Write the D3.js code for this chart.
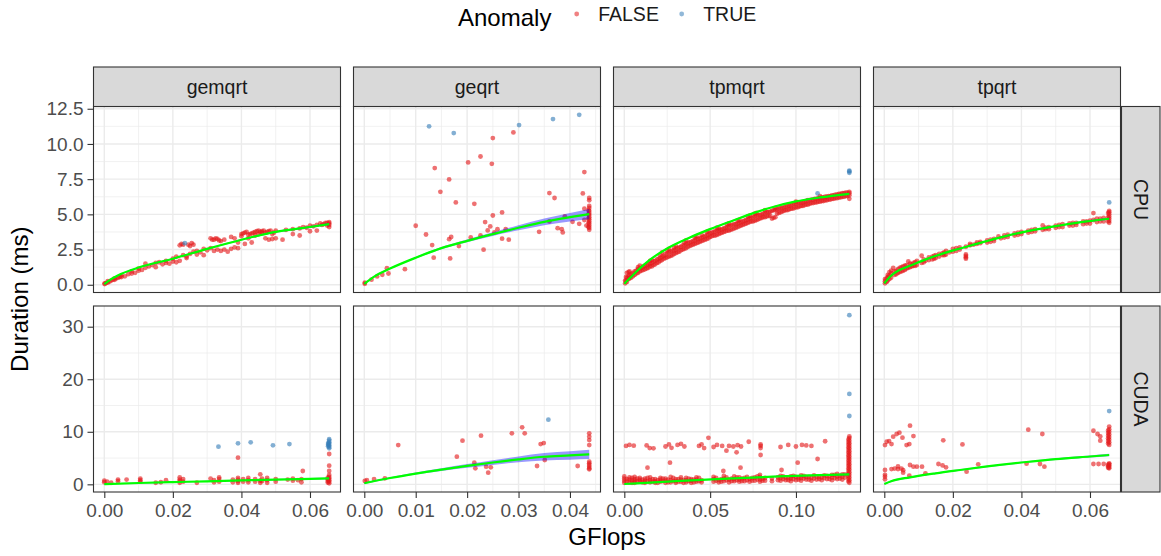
<!DOCTYPE html>
<html>
  <head>
    <meta charset="utf-8">
    <script src="https://d3js.org/d3.v7.min.js"></script>
    <style>
      body {
        margin: 0;
        background-color: #ffffff;
      }
      svg {
        font-family: "Liberation Sans", Arial, sans-serif;
      }
    </style>
  </head>

  <body>
    <!-- Facets, scales and tick labels. -->
    <script>
      const kernels = ["gemqrt", "geqrt", "tpmqrt", "tpqrt"]
      const devices = ["CPU", "CUDA"]
      const anomalyLabels = ["FALSE", "TRUE"]

      const xDomains = [[-0.00315, 0.0689], [-0.0021, 0.04594], [-0.0063, 0.1376], [-0.00315, 0.0689]]
      const xMajor = [[0, 0.02, 0.04, 0.06], [0, 0.01, 0.02, 0.03, 0.04], [0, 0.05, 0.1], [0, 0.02, 0.04, 0.06]]
      const xMinor = [[0.01, 0.03, 0.05], [0.005, 0.015, 0.025, 0.035, 0.045], [0.025, 0.075, 0.125], [0.01, 0.03, 0.05]]
      const xLabels = [["0.00", "0.02", "0.04", "0.06"], ["0.00", "0.01", "0.02", "0.03", "0.04"], ["0.00", "0.05", "0.10"], ["0.00", "0.02", "0.04", "0.06"]]

      const yDomains = [[-0.55, 12.66], [-1.46, 33.94]]
      const yMajor = [[0, 2.5, 5, 7.5, 10, 12.5], [0, 10, 20, 30]]
      const yMinor = [[1.25, 3.75, 6.25, 8.75, 11.25], [5, 15, 25]]
      const yLabels = [["0.0", "2.5", "5.0", "7.5", "10.0", "12.5"], ["0", "10", "20", "30"]]
    </script>

    <!-- Points, written as [GFlops, duration, duration, ...] columns. -->
    <script>
      const gemqrtCpuFalse = [
        [0.0001, 0.05, 0.1], [0.001, 0.15, 0.25], [0.002, 0.3], [0.003, 0.35, 0.45], [0.004, 0.5],
        [0.005, 0.55, 0.65], [0.006, 0.6], [0.007, 0.75], [0.008, 0.8, 0.95], [0.009, 0.85],
        [0.010, 1.0, 1.15], [0.011, 1.05], [0.012, 1.2, 1.5], [0.013, 1.3], [0.014, 1.4],
        [0.015, 1.25, 1.55], [0.016, 1.6], [0.017, 1.45], [0.018, 1.7, 1.55], [0.019, 1.5],
        [0.020, 1.65, 1.85], [0.021, 1.6, 2.0], [0.022, 2.8, 1.7], [0.023, 2.85, 2.1], [0.024, 2.0, 1.9],
        [0.025, 2.75, 2.2], [0.026, 2.35, 2.85], [0.027, 2.15, 2.4], [0.028, 2.3], [0.029, 2.55, 2.1],
        [0.030, 2.45], [0.031, 2.6, 3.3], [0.032, 3.2, 2.4], [0.033, 3.25, 2.5], [0.034, 3.1, 2.4],
        [0.035, 2.5, 3.2], [0.036, 2.35], [0.037, 2.55, 3.4], [0.038, 2.65, 3.3], [0.039, 3.0, 2.6],
        [0.040, 3.6, 3.45], [0.041, 3.7, 2.9], [0.042, 3.55, 3.3], [0.043, 3.65, 3.0], [0.044, 3.75, 3.5],
        [0.045, 3.6, 3.85], [0.046, 3.8, 3.7], [0.047, 3.7, 3.3], [0.048, 3.8, 3.2], [0.049, 3.6, 3.25],
        [0.050, 3.85, 3.3], [0.052, 3.2], [0.053, 3.9], [0.055, 3.95, 3.6], [0.057, 4.0, 3.5],
        [0.058, 4.1], [0.059, 4.05], [0.060, 4.2, 3.8], [0.061, 4.15], [0.062, 3.85, 4.25],
        [0.063, 4.35], [0.064, 4.3], [0.065, 4.4, 4.2], [0.0656, 4.1, 4.25, 4.35, 4.45],
        [0.0005, 0.12], [0.0015, 0.22], [0.0025, 0.35], [0.0035, 0.45], [0.0045, 0.55],
        [0.0225, 2.9], [0.0245, 2.85], [0.0255, 2.95], [0.0315, 3.2], [0.0325, 3.3], [0.0335, 3.15],
        [0.0405, 3.65], [0.0415, 3.75], [0.0425, 3.6], [0.0435, 3.7], [0.0445, 3.8], [0.0455, 3.75],
        [0.0465, 3.85], [0.0475, 3.75], [0.0485, 3.85], [0.0495, 3.7], [0.0635, 4.25], [0.0645, 4.4]
      ]
      const gemqrtCpuTrue = [[0.0235, 2.95]]

      const geqrtCpuFalse = [
        [0.0001, 0.07, 0.15], [0.0014, 0.36], [0.0025, 0.59], [0.0035, 0.71], [0.0044, 1.18],
        [0.0047, 0.8], [0.0079, 1.11], [0.01, 4.19], [0.012, 3.57], [0.0132, 2.82], [0.0135, 1.92],
        [0.0137, 8.29], [0.0148, 6.6], [0.0165, 3.24, 7.48], [0.0167, 1.87], [0.0169, 3.39],
        [0.0178, 5.85], [0.0184, 2.75], [0.0202, 8.69], [0.0207, 3.36], [0.0214, 5.75],
        [0.0226, 3.5, 9.11], [0.0232, 2.49], [0.0235, 4.45], [0.024, 3.86], [0.0245, 4.14],
        [0.0248, 8.59], [0.025, 4.92, 10.42], [0.0253, 3.72], [0.0259, 3.95], [0.0268, 3.27, 5.14],
        [0.0275, 3.95], [0.0281, 3.2], [0.029, 10.82], [0.034, 3.76], [0.036, 4.5, 6.51],
        [0.037, 6.16], [0.0376, 4.02], [0.0384, 3.95], [0.0386, 3.72], [0.039, 4.85], [0.0405, 4.47],
        [0.0418, 4.33], [0.0425, 6.49], [0.0428, 5.4, 8.0, 4.6], [0.0432, 4.2],
        [0.04375, 3.9, 4.05, 4.2, 4.35, 4.5, 4.65, 4.8, 4.95, 5.1, 5.25, 5.45, 5.6, 6.0, 6.16],
        [0.0436, 4.1, 4.4, 4.7, 5.0, 5.3]
      ]
      const geqrtCpuTrue = [[0.0126, 11.25], [0.0174, 10.77], [0.0301, 11.34], [0.0367, 11.77], [0.0418, 12.07]]

      const tpmqrtCpuFalse = [
        [0.0005, 0.1, 0.3], [0.0015, 0.2, 0.5, 0.85], [0.0025, 0.4, 0.6, 0.9], [0.004, 0.5, 0.75],
        [0.006, 0.7, 0.95], [0.008, 0.85, 1.1, 1.25], [0.010, 1.0, 1.2], [0.012, 1.1, 1.35],
        [0.014, 1.2, 1.45], [0.016, 1.3, 1.55, 1.75], [0.018, 1.45, 1.7], [0.020, 1.6, 1.85],
        [0.022, 1.75, 2.0, 2.3], [0.024, 1.9, 2.15], [0.026, 2.0, 2.3, 2.55], [0.028, 2.1, 2.4],
        [0.030, 2.25, 2.5, 2.75], [0.032, 2.35, 2.65], [0.034, 2.5, 2.8], [0.036, 2.6, 2.9, 3.15],
        [0.038, 2.75, 3.0], [0.040, 2.85, 3.1], [0.042, 2.95, 3.25, 3.45], [0.044, 3.05, 3.3],
        [0.046, 3.15, 3.4], [0.048, 3.25, 3.5, 3.75], [0.050, 3.4, 3.65], [0.052, 3.5, 3.75],
        [0.054, 3.55, 3.85, 4.05], [0.056, 3.65, 3.9], [0.058, 3.75, 4.0], [0.060, 3.85, 4.1, 4.3],
        [0.062, 3.9, 4.2], [0.064, 4.0, 4.3], [0.066, 4.1, 4.35, 4.55], [0.068, 4.2, 4.45],
        [0.070, 4.3, 4.55], [0.072, 4.4, 4.65, 4.85], [0.074, 4.5, 4.75], [0.076, 4.55, 4.85, 5.05],
        [0.078, 4.65, 4.95], [0.080, 4.75, 5.0], [0.082, 4.8, 5.1, 5.3], [0.084, 4.9, 5.15],
        [0.086, 4.7, 5.25], [0.088, 4.8, 5.3, 5.45], [0.090, 5.1, 5.4], [0.092, 5.2, 5.45],
        [0.094, 5.3, 5.55], [0.096, 5.35, 5.6], [0.098, 5.4, 5.7], [0.100, 5.5, 5.75, 5.9],
        [0.102, 5.55, 5.8], [0.104, 5.6, 5.85], [0.106, 5.7, 5.95], [0.108, 5.75, 6.0],
        [0.110, 5.8, 6.05], [0.112, 5.85, 6.1], [0.114, 5.9, 6.15, 6.3], [0.116, 5.95, 6.2],
        [0.118, 6.0, 6.25], [0.120, 6.05, 6.3], [0.122, 6.1, 6.35], [0.124, 6.15, 6.4],
        [0.126, 6.2, 6.45], [0.128, 6.25, 6.5], [0.130, 6.3, 6.55], [0.1311, 6.1, 6.35, 6.5, 6.6],
        [0.001, 0.3, 0.55], [0.003, 0.45, 0.7, 0.95], [0.005, 0.6, 0.85], [0.007, 0.8, 1.0],
        [0.009, 0.95, 1.15, 1.35], [0.011, 1.05, 1.3], [0.013, 1.15, 1.4], [0.015, 1.3, 1.5, 1.7],
        [0.017, 1.4, 1.65], [0.019, 1.55, 1.8], [0.021, 1.7, 1.9, 2.1], [0.023, 1.85, 2.05],
        [0.025, 1.95, 2.25, 2.45], [0.027, 2.05, 2.35], [0.029, 2.2, 2.45, 2.65], [0.031, 2.3, 2.6],
        [0.033, 2.45, 2.7], [0.035, 2.55, 2.8, 3.0], [0.037, 2.7, 2.95], [0.039, 2.8, 3.05],
        [0.041, 2.9, 3.15, 3.35], [0.043, 3.0, 3.25], [0.045, 3.1, 3.35, 3.55], [0.047, 3.2, 3.45],
        [0.049, 3.3, 3.55, 3.8], [0.051, 3.45, 3.7], [0.053, 3.5, 3.8], [0.055, 3.6, 3.85, 4.0],
        [0.057, 3.7, 3.95], [0.059, 3.8, 4.05], [0.061, 3.85, 4.15, 4.35], [0.063, 3.95, 4.25],
        [0.065, 4.05, 4.3], [0.067, 4.15, 4.4, 4.6], [0.069, 4.25, 4.5], [0.071, 4.35, 4.6],
        [0.073, 4.45, 4.7, 4.9], [0.075, 4.5, 4.8], [0.077, 4.6, 4.9, 5.1], [0.079, 4.7, 4.95],
        [0.081, 4.8, 5.05], [0.083, 4.85, 5.15], [0.085, 4.9, 5.2], [0.087, 4.75, 5.3],
        [0.089, 5.05, 5.35], [0.091, 5.15, 5.45], [0.093, 5.25, 5.5], [0.095, 5.3, 5.6],
        [0.097, 5.4, 5.65], [0.099, 5.45, 5.75], [0.101, 5.5, 5.8], [0.103, 5.6, 5.85],
        [0.105, 5.65, 5.9], [0.107, 5.7, 6.0], [0.109, 5.8, 6.05], [0.111, 5.85, 6.1],
        [0.113, 5.9, 6.15], [0.115, 5.95, 6.2], [0.117, 6.0, 6.25], [0.119, 6.05, 6.3],
        [0.121, 6.1, 6.35], [0.123, 6.15, 6.4], [0.125, 6.2, 6.45], [0.127, 6.25, 6.5], [0.129, 6.3, 6.55]
      ]
      const tpmqrtCpuTrue = [[0.1126, 6.49], [0.1311, 7.95, 8.05, 8.1]]

      const tpqrtCpuFalse = [
        [0.0002, 0.1, 0.25, 0.4], [0.001, 0.3, 0.55, 0.7], [0.002, 0.5, 0.8, 1.0], [0.0026, 1.2],
        [0.003, 0.7, 0.95], [0.004, 0.85, 1.1], [0.005, 0.95, 1.25], [0.006, 1.05, 1.35],
        [0.007, 1.2, 1.65], [0.008, 1.3, 1.45], [0.009, 1.35, 1.6], [0.0109, 1.55, 2.06],
        [0.012, 1.7], [0.013, 1.75, 1.95], [0.014, 1.8, 2.0], [0.015, 1.9, 2.1], [0.016, 2.0, 2.2],
        [0.017, 2.1, 2.25], [0.018, 2.15, 2.4], [0.019, 2.3], [0.020, 2.35, 2.55], [0.022, 2.5, 2.65],
        [0.0238, 1.85, 1.95, 2.05, 2.15, 2.7], [0.025, 2.8, 2.91], [0.026, 2.85], [0.028, 2.95, 3.05],
        [0.030, 3.0, 3.15], [0.032, 3.1, 3.25], [0.0333, 3.43], [0.034, 3.3], [0.036, 3.4, 3.55],
        [0.038, 3.5, 3.65], [0.040, 3.6, 3.75], [0.042, 3.7, 3.85], [0.044, 3.8, 3.95],
        [0.0462, 4.21, 3.9], [0.048, 3.95, 4.1], [0.050, 4.05, 4.2], [0.052, 4.1, 4.3],
        [0.054, 4.2, 4.35], [0.056, 4.25, 4.4], [0.058, 4.3, 4.5], [0.060, 4.35, 4.55],
        [0.061, 5.09, 4.6], [0.062, 4.45, 4.7], [0.064, 4.5, 4.75],
        [0.0656, 4.4, 4.55, 4.7, 4.85, 5.0, 5.15, 5.25],
        [0.0007, 0.2, 0.45], [0.0015, 0.4, 0.65, 0.9], [0.0035, 0.75, 1.0], [0.0045, 0.9, 1.2],
        [0.0055, 1.0, 1.3], [0.0065, 1.15, 1.4], [0.0075, 1.25, 1.5], [0.0085, 1.35, 1.55],
        [0.0095, 1.4, 1.7], [0.0115, 1.6, 1.8], [0.0145, 1.85, 2.05], [0.0175, 2.1, 2.3],
        [0.021, 2.4, 2.6], [0.027, 2.9, 3.0], [0.031, 3.05, 3.2], [0.035, 3.35, 3.5],
        [0.039, 3.55, 3.7], [0.043, 3.75, 3.9], [0.047, 3.95, 4.05], [0.051, 4.1, 4.25],
        [0.055, 4.2, 4.4], [0.059, 4.35, 4.5], [0.063, 4.5, 4.7], [0.0653, 4.5, 4.8, 5.1]
      ]
      const tpqrtCpuTrue = [[0.0656, 5.85]]

      const gemqrtCudaFalse = [
        [0.0, 0.4, 0.7], [0.0008, 0.5], [0.002, 0.3], [0.004, 0.6, 0.9], [0.0065, 0.9],
        [0.0105, 0.5, 0.8, 1.1], [0.015, 0.3], [0.0165, 0.4], [0.018, 0.8], [0.022, 0.3, 0.6, 0.9, 1.3],
        [0.023, 0.5, 1.0], [0.027, 0.3], [0.031, 1.1], [0.032, 0.4, 0.8], [0.0335, 0.5, 1.0, 1.3],
        [0.0375, 0.4, 0.9], [0.039, 0.3, 0.6, 0.9, 1.2, 5.07], [0.0405, 0.5, 1.0], [0.042, 0.4, 0.8, 1.2],
        [0.044, 0.5, 1.0], [0.0455, 0.3, 0.7, 1.9], [0.046, 0.6, 1.1], [0.0475, 0.3, 0.8, 1.2],
        [0.05, 0.5, 1.0], [0.0535, 0.9], [0.055, 0.7, 1.1], [0.0565, 0.8], [0.0575, 0.4, 1.0],
        [0.0579, 2.54], [0.0656, 0.2, 0.5, 0.8, 1.1, 1.4, 1.78, 2.54, 3.55, 5.77],
        [0.0652, 0.35, 0.65, 0.95, 1.25]
      ]
      const gemqrtCudaTrue = [
        [0.0333, 7.17], [0.039, 7.8], [0.0427, 8.0], [0.0492, 7.42], [0.054, 7.67],
        [0.0656, 6.85, 7.1, 7.4, 7.7, 8.0, 8.3, 8.6], [0.0653, 7.25, 7.55, 7.85]
      ]

      const geqrtCudaFalse = [
        [0.0001, 0.63], [0.0005, 0.8], [0.0019, 1.0], [0.004, 1.14], [0.0066, 7.48], [0.018, 5.26],
        [0.0191, 8.3], [0.0214, 4.12], [0.0216, 3.04], [0.0227, 9.26], [0.0237, 3.36], [0.0241, 2.22],
        [0.0246, 3.23], [0.0287, 9.7], [0.0307, 10.84], [0.0312, 9.7], [0.0336, 3.49], [0.0343, 7.67],
        [0.0349, 7.86], [0.0351, 4.63], [0.0415, 3.49],
        [0.04375, 2.85, 3.04, 3.36, 3.68, 4.0, 4.31, 7.48, 8.43, 9.07, 9.7]
      ]
      const geqrtCudaTrue = [[0.0358, 12.3]]

      const tpmqrtCudaFalse = [
        [0.000, 0.3, 0.7, 1.1, 1.5], [0.003, 0.4, 0.9, 1.3], [0.006, 0.3, 0.6, 1.0, 1.4],
        [0.009, 0.5, 0.9, 1.2], [0.012, 0.3, 0.7, 1.1], [0.015, 0.4, 0.8, 1.3], [0.018, 0.3, 0.6, 1.0],
        [0.021, 0.5, 0.9, 1.2], [0.024, 0.3, 0.7, 1.1], [0.027, 0.4, 0.8, 1.4], [0.030, 0.3, 0.6, 1.0],
        [0.033, 0.5, 0.9, 1.3], [0.036, 0.4, 0.8, 1.2], [0.039, 0.3, 0.7, 1.0], [0.042, 0.5, 0.9, 1.3],
        [0.045, 0.4, 0.8], [0.052, 0.5, 1.0, 1.4], [0.055, 0.4, 0.8], [0.058, 0.6, 1.1, 1.6],
        [0.061, 0.4, 0.9], [0.064, 0.6, 1.0, 1.5], [0.067, 0.5, 0.9, 1.3], [0.070, 0.6, 1.2],
        [0.073, 0.5, 1.0], [0.076, 0.7, 1.3], [0.079, 0.5, 0.9, 1.4, 1.8], [0.082, 0.7, 1.2],
        [0.086, 0.6, 1.1], [0.091, 0.7, 1.2, 1.6], [0.094, 0.8, 1.3], [0.097, 0.6, 1.1, 1.5],
        [0.100, 0.8, 1.4], [0.103, 0.7, 1.2, 1.7], [0.106, 0.9, 1.4], [0.109, 0.7, 1.2],
        [0.112, 0.9, 1.5], [0.115, 0.8, 1.3], [0.118, 1.0, 1.6], [0.121, 0.8, 1.3, 1.8],
        [0.124, 1.0, 1.5, 2.0], [0.127, 0.9, 1.4, 1.9],
        [0.1311, 0.3, 0.8, 1.3, 1.8, 2.3, 2.8, 3.3, 3.8, 4.3, 4.8, 5.3, 5.8, 6.3, 6.8, 7.3, 7.8, 8.3, 8.8, 9.1],
        [0.1306, 0.55, 1.05, 1.55, 2.05, 2.55, 3.05, 3.55, 4.05, 4.55, 5.05, 5.55, 6.05, 6.55, 7.05, 7.55, 8.05, 8.55],
        [0.0015, 0.5, 1.0], [0.0045, 0.3, 0.8, 1.2], [0.0075, 0.6, 1.1], [0.0105, 0.4, 0.9],
        [0.0135, 0.6, 1.2], [0.0165, 0.5, 1.0], [0.0195, 0.3, 0.8], [0.0225, 0.6, 1.1],
        [0.0255, 0.4, 0.9], [0.0285, 0.6, 1.2], [0.0315, 0.5, 1.0], [0.0345, 0.3, 0.8],
        [0.0375, 0.6, 1.1], [0.0405, 0.4, 0.9], [0.0435, 0.6, 1.2], [0.0535, 0.7, 1.2],
        [0.0565, 0.5, 1.0], [0.0595, 0.8, 1.3], [0.0625, 0.6, 1.1], [0.0655, 0.8, 1.3],
        [0.0685, 0.6, 1.1], [0.0715, 0.8, 1.4], [0.0745, 0.7, 1.2], [0.0775, 0.9, 1.5],
        [0.0805, 0.7, 1.1], [0.0895, 0.8, 1.3], [0.0925, 1.0, 1.5], [0.0955, 0.8, 1.2],
        [0.0985, 1.0, 1.6], [0.1015, 0.9, 1.3], [0.1045, 1.1, 1.6], [0.1075, 0.9, 1.4],
        [0.1105, 1.1, 1.7], [0.1135, 1.0, 1.4], [0.1165, 1.2, 1.7], [0.1195, 1.0, 1.5],
        [0.1225, 1.2, 1.8], [0.1255, 1.1, 1.6], [0.1285, 1.3, 1.9],
        [0.001, 7.3], [0.003, 7.5], [0.0055, 7.35], [0.013, 7.4], [0.0148, 6.9], [0.017, 6.85],
        [0.024, 7.2], [0.026, 7.6], [0.0275, 6.95], [0.031, 7.5], [0.033, 7.7], [0.035, 7.2],
        [0.0435, 7.3], [0.045, 7.6], [0.0465, 6.9], [0.049, 8.85], [0.052, 7.1], [0.054, 7.5],
        [0.057, 7.3], [0.0595, 6.4], [0.061, 7.3], [0.0635, 7.2], [0.066, 7.45], [0.068, 7.2],
        [0.0725, 8.1], [0.0794, 6.9, 7.3, 7.6], [0.091, 7.1], [0.0955, 7.5], [0.1, 7.2],
        [0.1035, 7.5], [0.106, 7.4], [0.109, 7.3], [0.117, 8.2],
        [0.0135, 3.17], [0.0266, 4.12], [0.0577, 2.54], [0.0654, 6.09], [0.0677, 3.17],
        [0.0794, 5.58], [0.0916, 2.73], [0.101, 4.12], [0.1126, 4.82]
      ]
      const tpmqrtCudaTrue = [[0.1311, 13.0, 17.2, 32.2]]

      const tpqrtCudaFalse = [
        [0.0002, 7.48], [0.0007, 8.1], [0.0014, 8.24], [0.0021, 7.67], [0.0026, 9.07], [0.0036, 9.58],
        [0.0044, 9.83], [0.0053, 8.88], [0.0065, 7.48], [0.0073, 7.67], [0.0075, 11.16], [0.0085, 9.19],
        [0.0172, 8.37], [0.0228, 7.6], [0.042, 10.4], [0.0461, 9.58], [0.061, 10.2], [0.0622, 9.58],
        [0.063, 9.1, 8.3], [0.0656, 7.5, 8.0, 8.5, 9.0, 9.5, 10.0, 10.5, 11.0],
        [0.0653, 7.75, 8.25, 8.75, 9.25, 9.75, 10.25],
        [0.0002, 2.73, 1.8, 1.46, 0.95], [0.0021, 2.9], [0.003, 3.0], [0.004, 3.4, 2.9], [0.005, 3.0],
        [0.0055, 2.7, 2.22], [0.0073, 1.65], [0.0075, 3.68], [0.0085, 3.36], [0.0095, 3.36],
        [0.011, 3.36], [0.012, 2.09], [0.0158, 3.87], [0.017, 3.6], [0.018, 3.23], [0.024, 2.41],
        [0.0274, 3.8], [0.0415, 3.93], [0.0454, 3.87], [0.0467, 3.36], [0.061, 3.87], [0.0625, 3.87],
        [0.064, 3.87], [0.0656, 3.04, 3.3, 3.6, 3.85, 4.0], [0.0653, 3.15, 3.45, 3.75]
      ]
      const tpqrtCudaTrue = [[0.0656, 13.95]]
    </script>

    <!-- Smoothed fits, as [GFlops, fitted duration, half band width]. -->
    <script>
      const gemqrtCpuFit = [[0, 0.05, 0.04], [0.002, 0.4, 0.04], [0.005, 0.78, 0.04], [0.01, 1.22, 0.04], [0.02, 1.85, 0.05], [0.03, 2.55, 0.05], [0.04, 3.2, 0.05], [0.05, 3.75, 0.06], [0.06, 4.1, 0.07], [0.0656, 4.3, 0.08]]
      const geqrtCpuFit = [[0, 0.07, 0.05], [0.002, 0.6, 0.05], [0.005, 1.15, 0.05], [0.01, 1.92, 0.06], [0.015, 2.6, 0.08], [0.02, 3.12, 0.1], [0.025, 3.6, 0.13], [0.03, 4.05, 0.18], [0.035, 4.47, 0.24], [0.04, 4.8, 0.3], [0.04375, 5.02, 0.36]]
      const tpmqrtCpuFit = [[0, 0.07, 0.04], [0.0052, 0.71, 0.04], [0.015, 1.78, 0.04], [0.0247, 2.56, 0.04], [0.0373, 3.31, 0.04], [0.0499, 3.95, 0.04], [0.0635, 4.57, 0.04], [0.0751, 5.09, 0.04], [0.0877, 5.56, 0.04], [0.1, 5.92, 0.04], [0.114, 6.2, 0.05], [0.1311, 6.46, 0.05]]
      const tpqrtCpuFit = [[0, 0.1, 0.05], [0.0017, 0.59, 0.05], [0.0046, 1.07, 0.05], [0.0075, 1.35, 0.05], [0.0123, 1.82, 0.05], [0.0201, 2.44, 0.05], [0.0269, 2.9, 0.05], [0.0337, 3.35, 0.05], [0.0415, 3.79, 0.05], [0.0512, 4.21, 0.05], [0.059, 4.5, 0.06], [0.0656, 4.69, 0.07]]
      const gemqrtCudaFit = [[0, 0.05, 0.1], [0.01, 0.25, 0.1], [0.02, 0.42, 0.1], [0.03, 0.58, 0.1], [0.04, 0.74, 0.1], [0.05, 0.9, 0.12], [0.06, 1.05, 0.14], [0.0656, 1.14, 0.15]]
      const geqrtCudaFit = [[0, 0.2, 0.15], [0.005, 1.2, 0.15], [0.01, 2.05, 0.2], [0.015, 2.8, 0.25], [0.02, 3.5, 0.35], [0.025, 4.15, 0.45], [0.03, 4.75, 0.55], [0.035, 5.25, 0.7], [0.04, 5.5, 0.8], [0.04375, 5.7, 0.9]]
      const tpmqrtCudaFit = [[0, 0.06, 0.1], [0.03, 0.6, 0.1], [0.06, 1.1, 0.1], [0.09, 1.5, 0.12], [0.12, 1.8, 0.14], [0.1311, 1.9, 0.15]]
      const tpqrtCudaFit = [[0, 0.06, 0.15], [0.002, 0.6, 0.15], [0.0075, 1.33, 0.15], [0.015, 2.1, 0.15], [0.0221, 2.73, 0.15], [0.03, 3.4, 0.15], [0.0415, 4.25, 0.15], [0.05, 4.8, 0.17], [0.06, 5.3, 0.2], [0.0656, 5.58, 0.22]]
    </script>

    <script>
      const w = 1161
      const h = 556
      const colLeft = [93.5, 353.5, 613.5, 873.5]
      const panelW = 247
      const rowTop = [106.5, 306]
      const panelH = 186
      const stripTop = 67
      const stripRight = [1121.5, 38.5]

      const red = "#E41A1C"
      const blue = "#377EB8"
      const dotR = 2.4

      const expand = (cols) => cols.flatMap(([x, ...ys]) => ys.map((y) => ({x: x, y: y})))

      const panels = [
        {row: 0, col: 0, normal: gemqrtCpuFalse, anomaly: gemqrtCpuTrue, fit: gemqrtCpuFit},
        {row: 0, col: 1, normal: geqrtCpuFalse, anomaly: geqrtCpuTrue, fit: geqrtCpuFit},
        {row: 0, col: 2, normal: tpmqrtCpuFalse, anomaly: tpmqrtCpuTrue, fit: tpmqrtCpuFit},
        {row: 0, col: 3, normal: tpqrtCpuFalse, anomaly: tpqrtCpuTrue, fit: tpqrtCpuFit},
        {row: 1, col: 0, normal: gemqrtCudaFalse, anomaly: gemqrtCudaTrue, fit: gemqrtCudaFit},
        {row: 1, col: 1, normal: geqrtCudaFalse, anomaly: geqrtCudaTrue, fit: geqrtCudaFit},
        {row: 1, col: 2, normal: tpmqrtCudaFalse, anomaly: tpmqrtCudaTrue, fit: tpmqrtCudaFit},
        {row: 1, col: 3, normal: tpqrtCudaFalse, anomaly: tpqrtCudaTrue, fit: tpqrtCudaFit}
      ]

      const svg = d3.select("body")
        .append("svg")
          .attr("width", w)
          .attr("height", h)

      const defs = svg.append("defs")

      panels.forEach((p) => {
        const left = colLeft[p.col]
        const top = rowTop[p.row]
        const x = d3.scaleLinear().domain(xDomains[p.col]).range([left, left + panelW])
        const y = d3.scaleLinear().domain(yDomains[p.row]).range([top + panelH, top])
        const id = "clip-" + p.row + "-" + p.col

        defs.append("clipPath").attr("id", id)
          .append("rect")
            .attr("x", left).attr("y", top)
            .attr("width", panelW).attr("height", panelH)

        const g = svg.append("g").attr("clip-path", "url(#" + id + ")")

        g.append("rect")
          .attr("x", left).attr("y", top)
          .attr("width", panelW).attr("height", panelH)
          .attr("fill", "#ffffff")

        // grid, minor first
        g.selectAll(".ymin").data(yMinor[p.row]).enter().append("line")
          .attr("x1", left).attr("x2", left + panelW)
          .attr("y1", (d) => y(d)).attr("y2", (d) => y(d))
          .attr("stroke", "#EBEBEB").attr("stroke-width", 0.7)
        g.selectAll(".xmin").data(xMinor[p.col]).enter().append("line")
          .attr("y1", top).attr("y2", top + panelH)
          .attr("x1", (d) => x(d)).attr("x2", (d) => x(d))
          .attr("stroke", "#EBEBEB").attr("stroke-width", 0.7)
        g.selectAll(".ymaj").data(yMajor[p.row]).enter().append("line")
          .attr("x1", left).attr("x2", left + panelW)
          .attr("y1", (d) => y(d)).attr("y2", (d) => y(d))
          .attr("stroke", "#EBEBEB").attr("stroke-width", 1.4)
        g.selectAll(".xmaj").data(xMajor[p.col]).enter().append("line")
          .attr("y1", top).attr("y2", top + panelH)
          .attr("x1", (d) => x(d)).attr("x2", (d) => x(d))
          .attr("stroke", "#EBEBEB").attr("stroke-width", 1.4)

        g.selectAll(".normal").data(expand(p.normal)).enter().append("circle")
          .attr("cx", (d) => x(d.x))
          .attr("cy", (d) => y(d.y))
          .attr("r", dotR)
          .attr("fill", red)
          .attr("fill-opacity", 0.62)
        g.selectAll(".anomaly").data(expand(p.anomaly)).enter().append("circle")
          .attr("cx", (d) => x(d.x))
          .attr("cy", (d) => y(d.y))
          .attr("r", dotR)
          .attr("fill", blue)
          .attr("fill-opacity", 0.62)

        const band = d3.area()
          .x((d) => x(d[0]))
          .y0((d) => y(d[1] - d[2]))
          .y1((d) => y(d[1] + d[2]))
          .curve(d3.curveMonotoneX)
        g.append("path")
          .attr("d", band(p.fit))
          .attr("fill", "#0000FF")
          .attr("fill-opacity", 0.4)

        const fitLine = d3.line()
          .x((d) => x(d[0]))
          .y((d) => y(d[1]))
          .curve(d3.curveMonotoneX)
        g.append("path")
          .attr("d", fitLine(p.fit))
          .attr("fill", "none")
          .attr("stroke", "#00FF00")
          .attr("stroke-width", 2.2)

        svg.append("rect")
          .attr("x", left).attr("y", top)
          .attr("width", panelW).attr("height", panelH)
          .attr("fill", "none")
          .attr("stroke", "#333333")
          .attr("stroke-width", 1.1)

        if (p.col === 0) {
          const yAxis = d3.axisLeft(y)
            .tickValues(yMajor[p.row])
            .tickFormat((d, i) => yLabels[p.row][i])
            .tickSize(6)
            .tickPadding(4)
          const ga = svg.append("g")
            .attr("transform", "translate(" + left + ",0)")
            .call(yAxis)
          ga.select(".domain").remove()
          ga.selectAll("line").attr("stroke", "#333333").attr("stroke-width", 1.1)
          ga.selectAll("text")
            .attr("fill", "#4D4D4D")
            .attr("font-size", 19)
            .attr("font-family", "Liberation Sans, Arial, sans-serif")
        }

        if (p.row === 1) {
          const xAxis = d3.axisBottom(x)
            .tickValues(xMajor[p.col])
            .tickFormat((d, i) => xLabels[p.col][i])
            .tickSize(6)
            .tickPadding(6)
          const ga = svg.append("g")
            .attr("transform", "translate(0," + (top + panelH) + ")")
            .call(xAxis)
          ga.select(".domain").remove()
          ga.selectAll("line").attr("stroke", "#333333").attr("stroke-width", 1.1)
          ga.selectAll("text")
            .attr("fill", "#4D4D4D")
            .attr("font-size", 19)
            .attr("font-family", "Liberation Sans, Arial, sans-serif")
        }
      })

      // strips on top
      kernels.forEach((k, i) => {
        svg.append("rect")
          .attr("x", colLeft[i]).attr("y", stripTop)
          .attr("width", panelW).attr("height", rowTop[0] - stripTop)
          .attr("fill", "#D9D9D9")
          .attr("stroke", "#333333")
          .attr("stroke-width", 1.1)
        svg.append("text")
          .attr("x", colLeft[i] + panelW / 2)
          .attr("y", (stripTop + rowTop[0]) / 2)
          .attr("dy", "0.35em")
          .attr("text-anchor", "middle")
          .attr("font-size", 19.5)
          .attr("fill", "#1A1A1A")
          .text(k)
      })

      // strips on the right
      devices.forEach((d, i) => {
        svg.append("rect")
          .attr("x", stripRight[0]).attr("y", rowTop[i])
          .attr("width", stripRight[1]).attr("height", panelH)
          .attr("fill", "#D9D9D9")
          .attr("stroke", "#333333")
          .attr("stroke-width", 1.1)
        svg.append("text")
          .attr("transform", "translate(" + (stripRight[0] + stripRight[1] / 2) + "," + (rowTop[i] + panelH / 2) + ") rotate(90)")
          .attr("dy", "0.35em")
          .attr("text-anchor", "middle")
          .attr("font-size", 19.5)
          .attr("fill", "#1A1A1A")
          .text(d)
      })

      // axis titles
      svg.append("text")
        .attr("x", (colLeft[0] + colLeft[3] + panelW) / 2)
        .attr("y", 545)
        .attr("text-anchor", "middle")
        .attr("font-size", 24)
        .attr("fill", "#000000")
        .text("GFlops")
      svg.append("text")
        .attr("transform", "translate(28," + (rowTop[0] + rowTop[1] + panelH) / 2 + ") rotate(-90)")
        .attr("text-anchor", "middle")
        .attr("font-size", 24)
        .attr("fill", "#000000")
        .text("Duration (ms)")

      // legend
      const legend = svg.append("g").attr("id", "legend")
      legend.append("text")
        .attr("x", 458).attr("y", 25.5)
        .attr("font-size", 24)
        .attr("fill", "#000000")
        .text("Anomaly")
      const keyX = [576.7, 681.7]
      const keyColors = [red, blue]
      anomalyLabels.forEach((lab, i) => {
        legend.append("circle")
          .attr("cx", keyX[i]).attr("cy", 14)
          .attr("r", dotR)
          .attr("fill", keyColors[i])
          .attr("fill-opacity", 0.55)
        legend.append("text")
          .attr("x", keyX[i] + 21.5).attr("y", 21)
          .attr("font-size", 19.5)
          .attr("fill", "#1A1A1A")
          .text(lab)
      })
    </script>
  </body>
</html>
